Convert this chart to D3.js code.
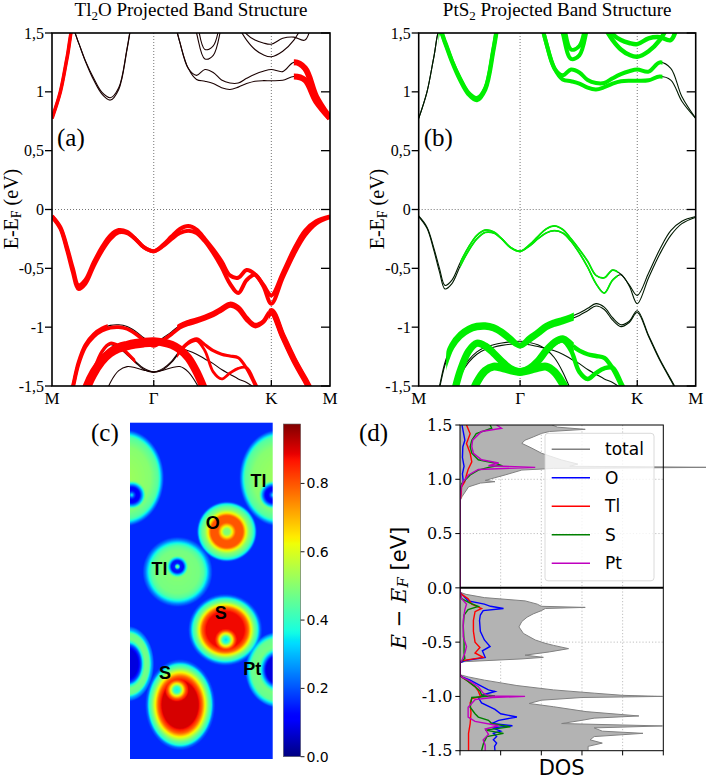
<!DOCTYPE html>
<html>
<head>
<meta charset="utf-8">
<script src="https://cdn.jsdelivr.net/npm/d3@7/dist/d3.min.js"></script>
<style>
  body { margin: 0; background: #fff; }
  svg { display: block; }
</style>
</head>
<body>
<div id="figure"></div>
<script>
// ---- band structure data ----
// k positions as fraction of the M-Γ-K-M path
const kGrid = [0, 0.03, 0.055, 0.075, 0.095, 0.12, 0.15, 0.18, 0.21, 0.24, 0.27, 0.30, 0.33, 0.366, 0.40, 0.43, 0.46, 0.49, 0.52, 0.55, 0.58, 0.61, 0.64, 0.67, 0.70, 0.73, 0.76, 0.789, 0.83, 0.87, 0.91, 0.95, 1]
const kTicks = [0, 0.366, 0.789, 1]
const kLabels = ['M', 'Γ', 'K', 'M']
const energyTicks = [1.5, 1, 0.5, 0, -0.5, -1, -1.5]
const energyTickLabels = ['1,5', '1', '0,5', '0', '-0,5', '-1', '-1,5']

// band energies (eV) at kGrid
const vb1a = [-0.055, -0.15, -0.33, -0.50, -0.645, -0.60, -0.45, -0.32, -0.22, -0.175, -0.19, -0.25, -0.32, -0.355, -0.30, -0.23, -0.165, -0.14, -0.17, -0.25, -0.34, -0.44, -0.56, -0.58, -0.515, -0.55, -0.64, -0.73, -0.54, -0.34, -0.18, -0.10, -0.06]
const vb1b = [-0.06, -0.16, -0.35, -0.53, -0.675, -0.63, -0.48, -0.35, -0.25, -0.195, -0.2, -0.25, -0.32, -0.355, -0.31, -0.25, -0.2, -0.18, -0.2, -0.27, -0.37, -0.49, -0.63, -0.71, -0.6, -0.555, -0.65, -0.80, -0.58, -0.38, -0.22, -0.12, -0.065]
const vb2a = [-1.9, -1.85, -1.7, -1.5, -1.3, -1.15, -1.06, -1.01, -0.985, -0.98, -0.995, -1.035, -1.09, -1.155, -1.09, -1.04, -0.985, -0.955, -0.935, -0.91, -0.88, -0.84, -0.80, -0.83, -0.92, -0.98, -0.95, -0.86, -1.07, -1.27, -1.44, -1.6, -1.68]
const vb2b = [-1.92, -1.87, -1.72, -1.52, -1.32, -1.17, -1.08, -1.03, -1.005, -1.0, -1.015, -1.055, -1.11, -1.16, -1.11, -1.06, -1.005, -0.975, -0.955, -0.93, -0.9, -0.86, -0.82, -0.85, -0.94, -0.995, -0.96, -0.875, -1.08, -1.28, -1.45, -1.61, -1.69]
const vb3a = [-2.4, -2.3, -2.1, -1.9, -1.72, -1.53, -1.38, -1.28, -1.21, -1.17, -1.15, -1.135, -1.125, -1.12, -1.13, -1.15, -1.19, -1.26, -1.38, -1.54, -1.7, -1.86, -2.0, -2.1, -2.2, -2.3, -2.4, -2.45, -2.45, -2.45, -2.45, -2.45, -2.45]
const vb3b = [-2.45, -2.35, -2.15, -1.95, -1.76, -1.57, -1.41, -1.30, -1.23, -1.19, -1.17, -1.155, -1.145, -1.14, -1.15, -1.165, -1.18, -1.2, -1.23, -1.27, -1.31, -1.36, -1.4, -1.44, -1.47, -1.52, -1.6, -1.7, -1.85, -2.0, -2.1, -2.2, -2.25]
const vb4a = [-2.3, -2.2, -2.05, -1.92, -1.8, -1.62, -1.37, -1.205, -1.137, -1.16, -1.22, -1.29, -1.35, -1.38, -1.35, -1.29, -1.2, -1.13, -1.10, -1.15, -1.20, -1.23, -1.245, -1.26, -1.35, -1.49, -1.65, -1.8, -2.0, -2.1, -2.2, -2.25, -2.3]
const vb4b = [-2.32, -2.22, -2.07, -1.94, -1.82, -1.64, -1.39, -1.22, -1.15, -1.175, -1.235, -1.30, -1.36, -1.385, -1.36, -1.30, -1.21, -1.14, -1.115, -1.2, -1.38, -1.44, -1.39, -1.35, -1.345, -1.47, -1.62, -1.78, -2.0, -2.1, -2.2, -2.25, -2.3]
const vb5 = [-2.25, -2.2, -2.15, -2.1, -2.05, -2.0, -1.85, -1.65, -1.47, -1.37, -1.335, -1.345, -1.365, -1.38, -1.365, -1.345, -1.335, -1.38, -1.48, -1.62, -1.75, -1.85, -1.95, -2.0, -2.05, -2.1, -2.15, -2.2, -2.25, -2.3, -2.3, -2.3, -2.3]
const cb1a = [0.775, 1.0, 1.30, 1.53, 1.42, 1.26, 1.10, 0.98, 0.93, 1.02, 1.36, 1.8, 2.2, 2.4, 2.5, 2.5, 2.5, 2.5, 2.5, 2.5, 2.5, 2.5, 2.5, 2.5, 2.5, 2.5, 2.5, 2.5, 2.5, 2.5, 2.5, 2.5, 2.5]
const cb1b = [0.775, 1.0, 1.30, 1.53, 1.42, 1.265, 1.115, 0.995, 0.95, 1.035, 1.37, 1.8, 2.2, 2.4, 2.5, 2.5, 2.5, 2.5, 2.5, 2.5, 2.5, 2.5, 2.5, 2.5, 2.5, 2.5, 2.5, 2.5, 2.5, 2.5, 2.5, 2.5, 2.5]
const cb2 = [2.6, 2.6, 2.6, 2.6, 2.6, 2.6, 2.6, 2.6, 2.6, 2.6, 2.6, 2.6, 2.6, 2.6, 2.3, 1.72, 1.42, 1.2, 1.105, 1.09, 1.07, 1.035, 1.02, 1.04, 1.07, 1.09, 1.095, 1.094, 1.098, 1.13, 1.10, 0.92, 0.775]
const cb3 = [2.6, 2.6, 2.6, 2.6, 2.6, 2.6, 2.6, 2.6, 2.6, 2.6, 2.6, 2.6, 2.6, 2.6, 2.3, 1.72, 1.42, 1.2, 1.14, 1.19, 1.165, 1.1, 1.075, 1.075, 1.115, 1.15, 1.175, 1.19, 1.172, 1.25, 1.2, 0.96, 0.775]
const cb4 = [2.4, 2.4, 2.4, 2.4, 2.4, 2.4, 2.4, 2.4, 2.4, 2.4, 2.4, 2.4, 2.4, 2.4, 2.4, 2.4, 2.2, 1.85, 1.5, 1.28, 1.31, 1.56, 1.85, 2.1, 2.3, 2.3, 2.3, 2.3, 2.3, 2.3, 2.3, 2.3, 2.3]
const cb5 = [2.4, 2.4, 2.4, 2.4, 2.4, 2.4, 2.4, 2.4, 2.4, 2.4, 2.4, 2.4, 2.4, 2.4, 2.4, 2.4, 2.4, 1.95, 1.62, 1.36, 1.39, 1.65, 1.95, 2.2, 2.4, 2.4, 2.4, 2.4, 2.4, 2.4, 2.4, 2.4, 2.4]
const cb6 = [2.3, 2.3, 2.3, 2.3, 2.3, 2.3, 2.3, 2.3, 2.3, 2.3, 2.3, 2.3, 2.3, 2.3, 2.3, 2.3, 2.3, 2.3, 2.3, 2.3, 2.3, 2.1, 1.8, 1.6, 1.49, 1.44, 1.415, 1.405, 1.455, 1.465, 1.44, 1.7, 1.9]
const cb7 = [2.2, 2.2, 2.2, 2.2, 2.2, 2.2, 2.2, 2.2, 2.2, 2.2, 2.2, 2.2, 2.2, 2.2, 2.2, 2.2, 2.2, 2.2, 2.2, 2.2, 2.2, 1.85, 1.65, 1.55, 1.44, 1.36, 1.315, 1.298, 1.345, 1.44, 1.6, 1.8, 1.9]

const bands = [vb1a, vb1b, vb2a, vb2b, vb3a, vb3b, vb4a, vb4b, vb5, cb1a, cb1b, cb2, cb3, cb4, cb5, cb6, cb7]

// projected weights along k: [kFrom, kTo, weight], same order as bands
const weightsTl2O = [
  [[0, 1, 0.5]], [[0, 1, 0.5]],
  [[0.05, 0.2, 0.45], [0.45, 0.78, 0.5], [0.78, 1, 0.7]], [[0.05, 0.78, 0.45], [0.78, 1, 0.7]],
  [[0, 1, 1]], [[0, 0.37, 0.8]],
  [[0, 0.3, 0.4], [0.45, 0.8, 0.4]], [[0.45, 0.8, 0.35]],
  [],
  [[0, 0.075, 0.45]], [[0, 0.075, 0.35]],
  [[0.87, 1, 0.75]], [[0.87, 1, 0.75]],
  [], [], [], []
]
const weightsPtS2 = [
  [[0.15, 0.72, 0.22]], [[0.15, 0.72, 0.22]],
  [[0.1, 0.56, 0.65]], [[0.1, 0.56, 0.65]],
  [], [],
  [[0.1, 0.56, 0.9], [0.56, 0.8, 0.55]], [[0.45, 0.8, 0.55]],
  [[0.15, 0.56, 1]],
  [[0.072, 0.35, 0.55]], [[0.072, 0.35, 0.45]],
  [[0.4, 0.88, 0.5]], [[0.4, 0.88, 0.5]],
  [[0.4, 0.7, 0.5]], [[0.4, 0.7, 0.5]],
  [[0.6, 1, 0.55]], [[0.6, 1, 0.55]]
]

// ---- DOS data: [E (eV), DOS] ----
const dosTotal = [[1.5, 2.26], [1.48, 2.4], [1.46, 3.08], [1.44, 2.2], [1.423, 2.01], [1.39, 1.8], [1.36, 1.6], [1.331, 1.52], [1.29, 1.75], [1.239, 2.01], [1.178, 2.5], [1.14, 2.9], [1.12, 2.7], [1.11, 6.3], [1.10, 2.3], [1.085, 1.52], [1.04, 1.11], [0.99, 0.62], [0.978, 0.86], [0.965, 0.5], [0.93, 0.21], [0.84, 0.05], [0.8, 0],
  [-0.04, 0], [-0.06, 0.15], [-0.09, 0.6], [-0.12, 1.6], [-0.15, 1.9], [-0.17, 2.0], [-0.18, 3.08], [-0.19, 2.1], [-0.21, 2.0], [-0.24, 1.8], [-0.27, 1.65], [-0.31, 1.52], [-0.36, 1.45], [-0.42, 1.56], [-0.48, 1.85], [-0.51, 2.09], [-0.53, 2.3], [-0.56, 2.67], [-0.59, 2.2], [-0.62, 1.6], [-0.64, 2.05], [-0.655, 1.5], [-0.68, 0.1], [-0.69, 0],
  [-0.8, 0], [-0.82, 0.2], [-0.85, 0.6], [-0.9, 1.4], [-0.94, 2.3], [-0.97, 3.3], [-0.99, 4.0], [-1.0, 4.98], [-1.01, 3.0], [-1.035, 2.0], [-1.065, 1.7], [-1.095, 2.3], [-1.14, 3.1], [-1.18, 4.4], [-1.2, 3.3], [-1.22, 3.0], [-1.25, 2.5], [-1.272, 4.98], [-1.29, 3.3], [-1.32, 3.5], [-1.34, 4.5], [-1.37, 3.3], [-1.4, 3.2], [-1.43, 3.5], [-1.46, 3.15], [-1.5, 3.15]]
const dosO = [[1.5, 0.05], [1.44, 0.08], [1.36, 0.12], [1.3, 0.07], [1.2, 0.06], [1.12, 0.1], [1.05, 0.06], [0.98, 0.08], [0.93, 0.03], [0.85, 0.01], [0.8, 0],
  [-0.04, 0], [-0.06, 0.05], [-0.12, 0.2], [-0.15, 0.6], [-0.17, 0.75], [-0.19, 1.07], [-0.21, 0.57], [-0.25, 0.5], [-0.3, 0.48], [-0.4, 0.5], [-0.48, 0.6], [-0.54, 0.74], [-0.58, 0.55], [-0.64, 0.62], [-0.67, 0.12], [-0.69, 0],
  [-0.8, 0], [-0.82, 0.05], [-0.85, 0.25], [-0.9, 0.5], [-0.94, 0.7], [-0.955, 0.86], [-0.98, 0.62], [-1.01, 0.45], [-1.06, 0.53], [-1.12, 0.86], [-1.16, 1.0], [-1.19, 1.4], [-1.22, 0.95], [-1.25, 0.78], [-1.27, 1.29], [-1.29, 0.8], [-1.32, 1.0], [-1.34, 0.82], [-1.37, 0.9], [-1.4, 0.82], [-1.43, 0.9], [-1.46, 0.85], [-1.5, 0.86]]
const dosTl = [[1.5, 0.16], [1.42, 0.25], [1.33, 0.16], [1.24, 0.25], [1.16, 0.29], [1.09, 0.2], [1.04, 0.16], [0.98, 0.12], [0.93, 0.04], [0.84, 0.02], [0.8, 0],
  [-0.04, 0], [-0.06, 0.04], [-0.1, 0.2], [-0.15, 0.29], [-0.19, 0.53], [-0.22, 0.37], [-0.3, 0.33], [-0.4, 0.33], [-0.5, 0.37], [-0.55, 0.49], [-0.6, 0.37], [-0.64, 0.57], [-0.67, 0.06], [-0.69, 0],
  [-0.8, 0], [-0.82, 0.04], [-0.85, 0.16], [-0.91, 0.37], [-0.95, 0.45], [-0.99, 0.49], [-1.0, 0.53], [-1.02, 0.29], [-1.06, 0.25], [-1.15, 0.27], [-1.25, 0.25], [-1.34, 0.21], [-1.5, 0.21]]
const dosS = [[1.5, 0.74], [1.47, 0.78], [1.42, 0.4], [1.36, 0.29], [1.3, 0.25], [1.24, 0.29], [1.18, 0.45], [1.15, 0.85], [1.13, 1.0], [1.11, 0.7], [1.085, 0.45], [1.04, 0.25], [0.99, 0.12], [0.96, 0.04], [0.9, 0.01], [0.8, 0],
  [-0.04, 0], [-0.1, 0.04], [-0.14, 0.25], [-0.17, 0.45], [-0.2, 0.2], [-0.25, 0.1], [-0.35, 0.08], [-0.5, 0.1], [-0.6, 0.1], [-0.65, 0.12], [-0.68, 0.02], [-0.69, 0],
  [-0.8, 0], [-0.82, 0.04], [-0.85, 0.16], [-0.91, 0.37], [-0.95, 0.49], [-0.985, 0.53], [-0.995, 0.86], [-1.01, 0.29], [-1.1, 0.25], [-1.16, 0.37], [-1.19, 0.45], [-1.22, 0.7], [-1.25, 0.78], [-1.28, 1.24], [-1.31, 0.62], [-1.34, 1.07], [-1.37, 0.66], [-1.43, 0.58], [-1.5, 0.53]]
const dosPt = [[1.5, 0.9], [1.47, 1.02], [1.44, 0.53], [1.36, 0.31], [1.3, 0.29], [1.24, 0.33], [1.18, 0.53], [1.15, 0.95], [1.125, 0.7], [1.11, 1.85], [1.09, 0.45], [1.04, 0.21], [0.98, 0.08], [0.93, 0.03], [0.8, 0],
  [-0.04, 0], [-0.1, 0.04], [-0.15, 0.16], [-0.2, 0.12], [-0.3, 0.08], [-0.45, 0.08], [-0.54, 0.16], [-0.6, 0.12], [-0.66, 0.06], [-0.69, 0],
  [-0.8, 0], [-0.82, 0.04], [-0.85, 0.2], [-0.91, 0.45], [-0.97, 0.57], [-0.995, 0.7], [-1.0, 1.6], [-1.01, 0.8], [-1.03, 0.37], [-1.1, 0.2], [-1.19, 0.2], [-1.23, 0.37], [-1.27, 0.95], [-1.3, 0.62], [-1.35, 0.7], [-1.4, 0.57], [-1.45, 0.62], [-1.5, 0.62]]
const dosNames = ['total', 'O', 'Tl', 'S', 'Pt']
const dosTicks = [1.5, 1.0, 0.5, 0.0, -0.5, -1.0, -1.5]
const dosTickLabels = ['1.5', '1.0', '0.5', '0.0', '-0.5', '-1.0', '-1.5']
const dosXTicks = [0, 1, 2, 3, 4, 5]

// ---- ELF map (units: Å in the slice plane) ----
const elfShellCenters = [[-0.14, 1.55, 1.24], [4.15, 1.55, 1.24], [2.71, 3.055, 1], [1.331, 4.185, 1], [2.663, 5.811, 0.97], [1.402, 7.913, 1.3], [-0.056, 6.764, 1.45], [4.149, 6.932, 1.15]]
const elfShellRadii = [
  [0, 0.7, 0.925, 0.98, 1.04, 1.09],
  [0, 0.7, 0.925, 0.98, 1.04, 1.09],
  [0, 0.084, 0.168, 0.252, 0.449, 0.533, 0.617, 0.701, 0.785, 0.813, 0.841],
  [0, 0.6, 0.729, 0.813, 0.897, 0.981],
  [0, 0.533, 0.645, 0.729, 0.813, 0.897, 0.981, 1.037],
  [0, 0.505, 0.617, 0.701, 0.785, 0.869, 0.925, 0.981],
  [0, 0.28, 0.364, 0.42, 0.477, 0.589, 0.645, 0.7, 0.729],
  [0, 0.336, 0.42, 0.505, 0.561, 0.757, 0.841, 0.897, 0.925]
]
const elfShellValues = [
  [0.53, 0.5, 0.44, 0.36, 0.24, 0.16],
  [0.53, 0.5, 0.44, 0.36, 0.24, 0.16],
  [0.48, 0.5, 0.66, 0.8, 0.8, 0.62, 0.5, 0.45, 0.34, 0.22, 0.16],
  [0.5, 0.48, 0.44, 0.36, 0.24, 0.16],
  [0.88, 0.88, 0.78, 0.62, 0.48, 0.4, 0.22, 0.16],
  [0.9, 0.9, 0.78, 0.62, 0.48, 0.38, 0.22, 0.16],
  [0.08, 0.08, 0.2, 0.38, 0.48, 0.46, 0.3, 0.22, 0.16],
  [0.08, 0.08, 0.25, 0.42, 0.48, 0.46, 0.32, 0.22, 0.16]
]
const elfCoreCenters = [[0.048, 2.027], [4.0, 2.027], [1.326, 4.036], [2.683, 6.091], [1.309, 7.493]]
const elfCoreRadii = [
  [0, 0.07, 0.14, 0.224, 0.308, 0.364, 0.392],
  [0, 0.07, 0.14, 0.224, 0.308, 0.364, 0.392],
  [0, 0.042, 0.084, 0.168, 0.224, 0.28, 0.308],
  [0, 0.084, 0.168, 0.252, 0.308],
  [0, 0.084, 0.168, 0.252, 0.336]
]
const elfCoreValues = [
  [0.38, 0.2, 0.1, 0.13, 0.3, 0.45, 0.5],
  [0.38, 0.2, 0.1, 0.13, 0.3, 0.45, 0.5],
  [0.56, 0.4, 0.15, 0.13, 0.3, 0.45, 0.5],
  [0.33, 0.38, 0.6, 0.8, 0.88],
  [0.35, 0.4, 0.62, 0.8, 0.9]
]
const elfBackground = 0.16
const elfMax = 0.974
const elfLabels = [['Tl', 3.6, 1.63], ['O', 2.318, 2.8], ['Tl', 0.83, 4.1], ['S', 2.542, 5.35], ['Pt', 3.43, 6.9], ['S', 0.981, 7.02]]
const colorbarTicks = [0, 0.2, 0.4, 0.6, 0.8]

// ---- drawing ----
const svg = d3.select('#figure').append('svg')
  .attr('width', 706)
  .attr('height', 780)
const defs = svg.append('defs')

const jet = d3.scaleLinear()
  .domain([0, 0.11, 0.125, 0.34, 0.35, 0.375, 0.64, 0.65, 0.66, 0.89, 0.91, 1])
  .range(['#000080', '#0000ff', '#0000ff', '#00dbff', '#00e5f7', '#15ffe2', '#efff08', '#f7f500', '#ffec00', '#ff1300', '#e80000', '#800000'])
  .interpolate(d3.interpolateRgb)
  .clamp(true)

const bandWidth = d3.scaleLinear().domain([0, 1]).range([0, 8])

const drawBandPanel = function (p) {
  const x = d3.scaleLinear().domain([0, 1]).range([p.left, p.right])
  const y = d3.scaleLinear().domain([-1.5, 1.5]).range([386, 33])
  const top = y(1.5)
  const bottom = y(-1.5)
  const g = svg.append('g').style('font-family', 'Liberation Serif')

  defs.append('clipPath').attr('id', p.id + '-plot')
    .append('rect')
    .attr('x', p.left).attr('y', top)
    .attr('width', p.right - p.left).attr('height', bottom - top)

  // dotted guides at Γ, K and E_F
  g.selectAll('line.kguide')
    .data(kTicks.slice(1, 3))
    .enter()
    .append('line')
    .attr('x1', d => x(d)).attr('x2', d => x(d))
    .attr('y1', top).attr('y2', bottom)
    .attr('stroke', '#666').attr('stroke-width', 0.9).attr('stroke-dasharray', '1,2')
  g.append('line')
    .attr('x1', p.left).attr('x2', p.right)
    .attr('y1', y(0)).attr('y2', y(0))
    .attr('stroke', '#666').attr('stroke-width', 0.9).attr('stroke-dasharray', '1,2')

  const line = d3.line()
    .x((d, i) => x(kGrid[i]))
    .y(d => y(d))
    .curve(d3.curveCatmullRom.alpha(0.5))

  const plot = g.append('g').attr('clip-path', 'url(#' + p.id + '-plot)')
  plot.selectAll('path.band')
    .data(bands)
    .enter()
    .append('path')
    .attr('d', line)
    .attr('fill', 'none')
    .attr('stroke', p.thin)
    .attr('stroke-width', 1.1)

  const segs = []
  bands.forEach(function (b, bi) {
    p.weights[bi].forEach(function (s, si) {
      segs.push({ band: b, k0: s[0], k1: s[1], w: s[2], id: p.id + '-s' + bi + '-' + si })
    })
  })
  defs.selectAll(null)
    .data(segs)
    .enter()
    .append('clipPath')
    .attr('id', d => d.id)
    .append('rect')
    .attr('x', d => x(d.k0)).attr('width', d => x(d.k1) - x(d.k0))
    .attr('y', top).attr('height', bottom - top)
  plot.selectAll('path.proj')
    .data(segs)
    .enter()
    .append('path')
    .attr('d', d => line(d.band))
    .attr('clip-path', d => 'url(#' + d.id + ')')
    .attr('fill', 'none')
    .attr('stroke', p.color)
    .attr('stroke-width', d => bandWidth(d.w))

  // frame and ticks
  g.append('rect')
    .attr('x', p.left).attr('y', top)
    .attr('width', p.right - p.left).attr('height', bottom - top)
    .attr('fill', 'none').attr('stroke', '#000').attr('stroke-width', 1.6)
  g.selectAll('line.ltick').data(energyTicks).enter().append('line')
    .attr('x1', p.left - 7).attr('x2', p.left)
    .attr('y1', d => y(d)).attr('y2', d => y(d))
    .attr('stroke', '#000').attr('stroke-width', 1.3)
  g.selectAll('line.rtick').data(energyTicks).enter().append('line')
    .attr('x1', p.right - 9).attr('x2', p.right)
    .attr('y1', d => y(d)).attr('y2', d => y(d))
    .attr('stroke', '#000').attr('stroke-width', 1.3)
  g.selectAll('line.btick').data(kTicks.slice(1, 3)).enter().append('line')
    .attr('x1', d => x(d)).attr('x2', d => x(d))
    .attr('y1', bottom - 6).attr('y2', bottom)
    .attr('stroke', '#000').attr('stroke-width', 1.3)
  g.selectAll('text.ylab').data(energyTicks).enter().append('text')
    .attr('x', p.left - 8).attr('y', d => y(d)).attr('dy', '0.35em')
    .attr('text-anchor', 'end').attr('font-size', 16)
    .text((d, i) => energyTickLabels[i])
  g.selectAll('text.klab').data(kTicks).enter().append('text')
    .attr('x', d => x(d)).attr('y', 404)
    .attr('text-anchor', 'middle').attr('font-size', 17)
    .text((d, i) => kLabels[i])

  // title
  const title = g.append('text')
    .attr('x', (p.left + p.right) / 2).attr('y', 16)
    .attr('text-anchor', 'middle').attr('font-size', 19)
  title.append('tspan').text(p.title[0])
  title.append('tspan').attr('dy', 4).attr('font-size', 13).text(p.title[1])
  title.append('tspan').attr('dy', -4).text(p.title[2])

  // y label
  const yl = g.append('text')
    .attr('transform', 'translate(' + p.ylabelX + ',209) rotate(-90)')
    .attr('text-anchor', 'middle').attr('dominant-baseline', 'central')
    .attr('font-size', 20)
  yl.append('tspan').text('E-E')
  yl.append('tspan').attr('dy', 5).attr('font-size', 14).text('F')
  yl.append('tspan').attr('dy', -5).text(' (eV)')

  g.append('text')
    .attr('x', p.left + 5).attr('y', 146)
    .attr('font-size', 25)
    .text(p.tag)
}

drawBandPanel({
  id: 'tl2o', left: 52, right: 330, color: '#ff0000', thin: '#1a0000',
  weights: weightsTl2O, title: ['Tl', '2', 'O Projected Band Structure'],
  ylabelX: 11, tag: '(a)'
})
drawBandPanel({
  id: 'pts2', left: 418.7, right: 695.7, color: '#00ee00', thin: '#001a00',
  weights: weightsPtS2, title: ['PtS', '2', ' Projected Band Structure'],
  ylabelX: 377, tag: '(b)'
})

// ---- panel (c): ELF map ----
const drawElf = function () {
  const mx = d3.scaleLinear().domain([0, 4]).range([130, 272.7])
  const my = d3.scaleLinear().domain([0, 9.43]).range([422.7, 759])
  const res = 2
  const w = Math.round((mx.range()[1] - mx.range()[0]) * res)
  const h = Math.round((my.range()[1] - my.range()[0]) * res)
  const shells = elfShellCenters.map((c, i) => ({
    cx: c[0], cy: c[1], ay: c[2], rmax: d3.max(elfShellRadii[i]),
    f: d3.scaleLinear().domain(elfShellRadii[i]).range(elfShellValues[i]).clamp(true)
  }))
  const cores = elfCoreCenters.map((c, i) => ({
    cx: c[0], cy: c[1], rmax: d3.max(elfCoreRadii[i]),
    f: d3.scaleLinear().domain(elfCoreRadii[i]).range(elfCoreValues[i]).clamp(true)
  }))
  const lut = d3.range(256).map(i => d3.rgb(jet(i / 255)))
  const canvas = document.createElement('canvas')
  canvas.width = w
  canvas.height = h
  const ctx = canvas.getContext('2d')
  const img = ctx.createImageData(w, h)
  for (let j = 0; j < h; j++) {
    const v = my.invert(my.range()[0] + (j + 0.5) / res)
    for (let i = 0; i < w; i++) {
      const u = mx.invert(mx.range()[0] + (i + 0.5) / res)
      let val = -1
      shells.forEach(function (s) {
        const dx = u - s.cx
        const dy = (v - s.cy) / s.ay
        const r = Math.sqrt(dx * dx + dy * dy)
        if (r < s.rmax) val = Math.max(val, s.f(r))
      })
      if (val < 0) val = elfBackground
      cores.forEach(function (c) {
        const r = Math.hypot(u - c.cx, v - c.cy)
        if (r < c.rmax) val = Math.min(val, c.f(r))
      })
      const col = lut[Math.round(Math.min(1, val / elfMax) * 255)]
      const o = (j * w + i) * 4
      img.data[o] = col.r
      img.data[o + 1] = col.g
      img.data[o + 2] = col.b
      img.data[o + 3] = 255
    }
  }
  ctx.putImageData(img, 0, 0)
  svg.append('image')
    .attr('href', canvas.toDataURL())
    .attr('x', 130).attr('y', 422.7)
    .attr('width', 142.7).attr('height', 336.3)
    .attr('preserveAspectRatio', 'none')

  svg.append('g').selectAll('text')
    .data(elfLabels)
    .enter()
    .append('text')
    .attr('x', d => mx(d[1])).attr('y', d => my(d[2]))
    .attr('text-anchor', 'middle').attr('dominant-baseline', 'central')
    .style('font-family', 'Liberation Sans').style('font-weight', 'bold')
    .attr('font-size', 18)
    .text(d => d[0])

  // colorbar
  const cb = d3.scaleLinear().domain([0, elfMax]).range([756.7, 424])
  const grad = defs.append('linearGradient').attr('id', 'jetbar')
    .attr('x1', 0).attr('y1', 1).attr('x2', 0).attr('y2', 0)
  grad.selectAll('stop')
    .data(d3.range(0, 1.0001, 0.01))
    .enter()
    .append('stop')
    .attr('offset', d => d)
    .attr('stop-color', d => jet(d))
  svg.append('rect')
    .attr('x', 283.3).attr('y', cb(elfMax))
    .attr('width', 17.4).attr('height', cb(0) - cb(elfMax))
    .attr('fill', 'url(#jetbar)').attr('stroke', '#666').attr('stroke-width', 0.6)
  const cbg = svg.append('g').style('font-family', 'DejaVu Sans')
  cbg.selectAll('line').data(colorbarTicks).enter().append('line')
    .attr('x1', 300.7).attr('x2', 304.5)
    .attr('y1', d => cb(d)).attr('y2', d => cb(d))
    .attr('stroke', '#000').attr('stroke-width', 0.9)
  cbg.selectAll('text').data(colorbarTicks).enter().append('text')
    .attr('x', 306.5).attr('y', d => cb(d)).attr('dy', '0.36em')
    .attr('font-size', 14)
    .text(d => d3.format('.1f')(d))

  svg.append('text')
    .attr('x', 91).attr('y', 441)
    .style('font-family', 'Liberation Serif').attr('font-size', 25)
    .text('(c)')
}
drawElf()

// ---- panel (d): DOS ----
const drawDos = function () {
  const x = d3.scaleLinear().domain([0, 5]).range([460, 663.3])
  const y = d3.scaleLinear().domain([-1.5, 1.5]).range([750.7, 425])
  const g = svg.append('g')
  const series = [dosTotal, dosO, dosTl, dosS, dosPt]
  const colors = ['#808080', '#0000ff', '#ff0000', '#008000', '#bf00bf']

  defs.append('clipPath').attr('id', 'dos-clip')
    .append('rect').attr('x', 460).attr('y', 425).attr('width', 246).attr('height', 325.7)

  // grid
  g.selectAll('line.gx').data(dosXTicks.slice(1, 5)).enter().append('line')
    .attr('x1', d => x(d)).attr('x2', d => x(d)).attr('y1', 425).attr('y2', 750.7)
    .attr('stroke', '#b0b0b0').attr('stroke-width', 0.8).attr('stroke-dasharray', '1.2,2')
  g.selectAll('line.gy').data(dosTicks.filter(d => Math.abs(d) > 0.1 && Math.abs(d) < 1.4)).enter().append('line')
    .attr('x1', 460).attr('x2', 663.3).attr('y1', d => y(d)).attr('y2', d => y(d))
    .attr('stroke', '#b0b0b0').attr('stroke-width', 0.8).attr('stroke-dasharray', '1.2,2')

  const plot = g.append('g').attr('clip-path', 'url(#dos-clip)')
  plot.append('path')
    .datum(dosTotal)
    .attr('d', d3.area().y(d => y(d[0])).x0(x(0)).x1(d => x(d[1])))
    .attr('fill', '#b3b3b3')
  const line = d3.line().x(d => x(d[1])).y(d => y(d[0]))
  plot.selectAll('path.pdos')
    .data(series)
    .enter()
    .append('path')
    .attr('d', line)
    .attr('fill', 'none')
    .attr('stroke', (d, i) => colors[i])
    .attr('stroke-width', (d, i) => i === 0 ? 1 : 1.4)

  g.append('line')
    .attr('x1', 460).attr('x2', 663.3).attr('y1', y(0)).attr('y2', y(0))
    .attr('stroke', '#000').attr('stroke-width', 2)
  g.append('rect')
    .attr('x', 460).attr('y', 425).attr('width', 203.3).attr('height', 325.7)
    .attr('fill', 'none').attr('stroke', '#000').attr('stroke-width', 1)

  // ticks
  g.selectAll('line.ty').data(dosTicks).enter().append('line')
    .attr('x1', 455.3).attr('x2', 460).attr('y1', d => y(d)).attr('y2', d => y(d))
    .attr('stroke', '#000').attr('stroke-width', 1)
  g.selectAll('line.tx').data(dosXTicks).enter().append('line')
    .attr('x1', d => x(d)).attr('x2', d => x(d)).attr('y1', 750.7).attr('y2', 755.4)
    .attr('stroke', '#000').attr('stroke-width', 1)
  g.selectAll('text.ty').data(dosTicks).enter().append('text')
    .attr('x', 452.5).attr('y', d => y(d)).attr('dy', '0.36em')
    .attr('text-anchor', 'end')
    .style('font-family', 'DejaVu Serif').attr('font-size', 16)
    .text((d, i) => dosTickLabels[i])

  // legend
  const lg = g.append('g').style('font-family', 'DejaVu Sans')
  lg.append('rect')
    .attr('x', 545).attr('y', 433.3).attr('width', 109).attr('height', 147.5).attr('rx', 3)
    .attr('fill', '#fff').attr('fill-opacity', 0.8)
    .attr('stroke', '#d0d0d0').attr('stroke-width', 0.8)
  const items = lg.selectAll('g.item').data(dosNames).enter().append('g')
    .attr('transform', (d, i) => 'translate(0,' + (449.3 + i * 28.5) + ')')
  items.append('line')
    .attr('x1', 551.7).attr('x2', 590)
    .attr('stroke', (d, i) => colors[i]).attr('stroke-width', 1.4)
  items.append('text')
    .attr('x', 605).attr('dy', '0.36em').attr('font-size', 17)
    .text(d => d)

  // axis labels
  g.append('text')
    .attr('x', 561.7).attr('y', 775)
    .attr('text-anchor', 'middle')
    .style('font-family', 'DejaVu Sans').attr('font-size', 21)
    .text('DOS')
  const yl = g.append('text')
    .attr('transform', 'translate(399,588) rotate(-90)')
    .attr('text-anchor', 'middle').attr('dominant-baseline', 'central')
    .style('font-family', 'DejaVu Sans').attr('font-size', 21)
  yl.append('tspan').style('font-family', 'DejaVu Serif').style('font-style', 'italic').text('E')
  yl.append('tspan').text(' − ')
  yl.append('tspan').style('font-family', 'DejaVu Serif').style('font-style', 'italic').text('E')
  yl.append('tspan').attr('dy', 4).attr('font-size', 15).style('font-family', 'DejaVu Serif').style('font-style', 'italic').text('F')
  yl.append('tspan').attr('dy', -4).text(' [eV]')

  g.append('text')
    .attr('x', 359).attr('y', 441)
    .style('font-family', 'Liberation Serif').attr('font-size', 25)
    .text('(d)')
}
drawDos()
</script>
</body>
</html>
